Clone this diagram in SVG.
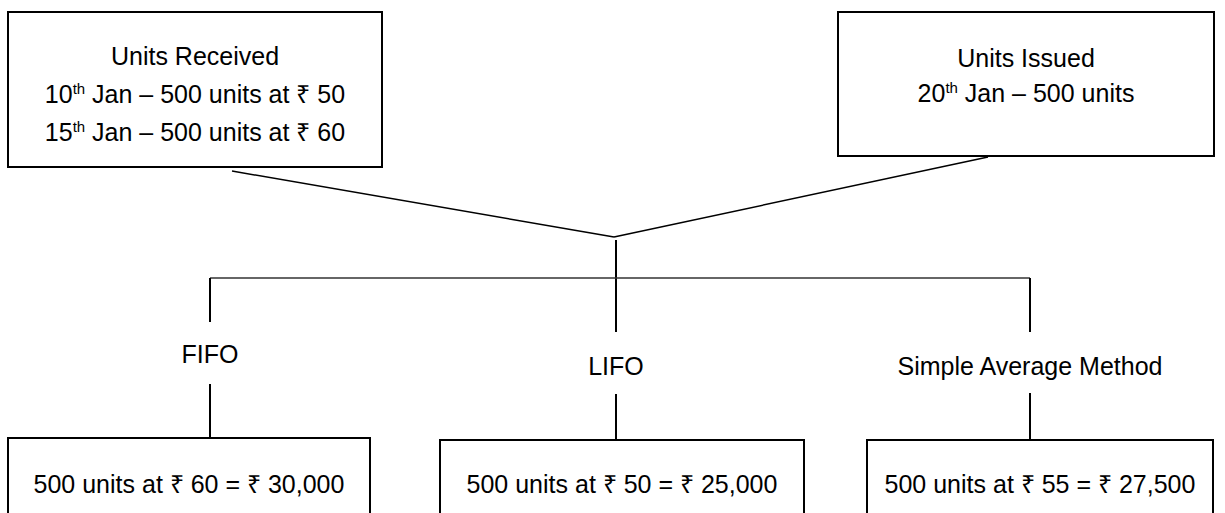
<svg xmlns="http://www.w3.org/2000/svg" width="1225" height="513" viewBox="0 0 1225 513">
<style>
  .box { fill: #ffffff; stroke: #000000; stroke-width: 2; }
  .t { font-family: "Liberation Sans", Arial, sans-serif; font-size: 25px; fill: #000000; text-anchor: middle; }
  .sup { font-size: 15px; }
  .ln { stroke: #000000; stroke-width: 1.5; fill: none; }
  .vl { stroke: #000000; stroke-width: 2; fill: none; }
  .hl { stroke: #333333; stroke-width: 1.5; fill: none; }
</style>
<rect width="1225" height="513" fill="#ffffff"/>
<g id="connectors">
  <line class="ln" x1="232" y1="171" x2="614" y2="237"/>
  <line class="ln" x1="614" y1="237" x2="988" y2="157"/>
  <line class="vl" x1="616" y1="240" x2="616" y2="332"/>
  <line class="hl" x1="210" y1="278" x2="1030" y2="278"/>
  <line class="vl" x1="210" y1="278" x2="210" y2="322"/>
  <line class="vl" x1="1030" y1="278" x2="1030" y2="332"/>
  <line class="vl" x1="210" y1="384" x2="210" y2="438"/>
  <line class="vl" x1="616" y1="394" x2="616" y2="440"/>
  <line class="vl" x1="1030" y1="393" x2="1030" y2="440"/>
</g>
<g id="received">
  <rect class="box" x="8" y="12" width="374" height="155"/>
  <text class="t" x="195" y="65">Units Received</text>
  <text class="t" x="195" y="103">10<tspan class="sup" dy="-9">th</tspan><tspan dy="9"> Jan – 500 units at ₹ 50</tspan></text>
  <text class="t" x="195" y="141">15<tspan class="sup" dy="-9">th</tspan><tspan dy="9"> Jan – 500 units at ₹ 60</tspan></text>
</g>
<g id="issued">
  <rect class="box" x="838" y="12" width="376" height="144"/>
  <text class="t" x="1026" y="67">Units Issued</text>
  <text class="t" x="1026" y="102">20<tspan class="sup" dy="-9">th</tspan><tspan dy="9"> Jan – 500 units</tspan></text>
</g>
<g id="fifo">
  <text class="t" x="210" y="363">FIFO</text>
</g>
<g id="lifo">
  <text class="t" x="616" y="375">LIFO</text>
</g>
<g id="sam">
  <text class="t" x="1030" y="375">Simple Average Method</text>
</g>
<g id="fifo-result">
  <rect class="box" x="8" y="438" width="362" height="90"/>
  <text class="t" x="189" y="493">500 units at ₹ 60 = ₹ 30,000</text>
</g>
<g id="lifo-result">
  <rect class="box" x="440" y="440" width="364" height="90"/>
  <text class="t" x="622" y="493">500 units at ₹ 50 = ₹ 25,000</text>
</g>
<g id="sam-result">
  <rect class="box" x="867" y="440" width="346" height="90"/>
  <text class="t" x="1040" y="493">500 units at ₹ 55 = ₹ 27,500</text>
</g>
</svg>
